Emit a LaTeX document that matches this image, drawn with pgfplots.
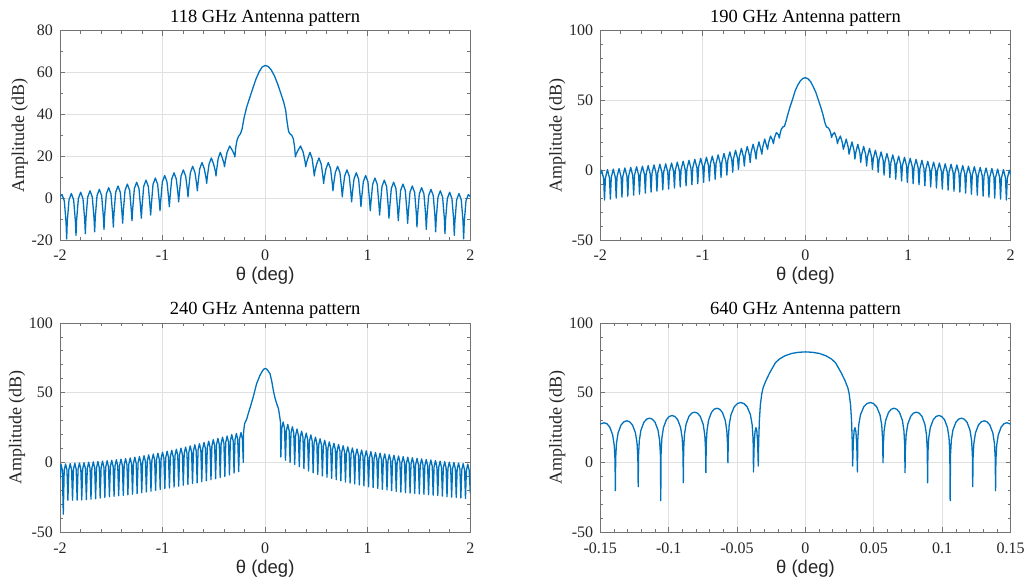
\documentclass[border=0pt]{standalone}
\usepackage{fontspec}
\setmainfont{Liberation Serif}
\newfontfamily\sansfont{Liberation Sans}
\usepackage{pgfplots}
\pgfplotsset{compat=1.18}
\definecolor{mblue}{RGB}{0,114,189}
\pgfplotsset{antenna/.style={
 scale only axis, width=205.15pt, height=104.65pt, anchor=south west,
 axis line style={black!55, line width=0.4pt},
 every tick/.style={black!55, line width=0.4pt},
 major tick length=2.5pt, minor tick length=1.5pt, tick align=inside,
 xmajorgrids, ymajorgrids, grid style={black!12, line width=0.4pt},
 ticklabel style={font=\fontsize{8}{9}\selectfont, text=black!85},
 title style={font=\fontsize{9.25}{11}\selectfont, text=black, anchor=base, yshift=-2pt},
 xlabel style={font=\sansfont\fontsize{9.25}{11}\selectfont, text=black!85, at={(axis description cs:0.5,0)}, anchor=base, yshift=-20.5pt},
 ylabel style={font=\fontsize{9}{11}\selectfont, text=black!85},
 ylabel shift=-5pt,
 xlabel={θ (deg)}, ylabel={Amplitude (dB)},
 xmin=-2, xmax=2, xtick={-2,-1,0,1,2}, xticklabels={-2,-1,0,1,2}, minor x tick num=4,
 xticklabel style={anchor=base, yshift=-10.5pt},
 ymin=-50, ymax=100, ytick={-50,0,50,100}, yticklabels={-50,0,50,100}, minor y tick num=4,
}, ant/.style={mblue, mark=none, line width=0.65pt, line join=round}}
\begin{document}
\begin{tikzpicture}
\useasboundingbox (0,0) rectangle (513pt,290.5pt);
% ---------------- 118 GHz
\begin{axis}[antenna, at={(30pt,170.5pt)}, title={118 GHz Antenna pattern},
 ymin=-20, ymax=80, ytick={-20,0,20,40,60,80}, yticklabels={-20,0,20,40,60,80}, minor y tick num=1]
\addplot[ant] coordinates {
(-2.0,0.8) (-1.9805,1.7) (-1.958,-1.3) (-1.941,-11.5) (-1.935,-19.5)
(-1.929,-11.0) (-1.912,-0.8) (-1.8895,2.2) (-1.867,-0.8) (-1.850,-11.0) (-1.844,-17.8)
(-1.838,-10.4) (-1.821,-0.2) (-1.7985,2.8) (-1.776,-0.2) (-1.759,-10.4) (-1.753,-17)
(-1.747,-9.7) (-1.730,0.5) (-1.7075,3.5) (-1.685,0.5) (-1.668,-9.7) (-1.662,-16.1)
(-1.656,-9.0) (-1.639,1.2) (-1.6165,4.2) (-1.594,1.2) (-1.577,-9.0) (-1.571,-15)
(-1.565,-8.2) (-1.548,2.0) (-1.5255,5.0) (-1.503,2.0) (-1.486,-8.2) (-1.480,-13.8)
(-1.474,-7.4) (-1.457,2.8) (-1.4345,5.8) (-1.412,2.8) (-1.395,-7.4) (-1.389,-12)
(-1.383,-6.5) (-1.366,3.7) (-1.3435,6.7) (-1.321,3.7) (-1.304,-6.4) (-1.298,-10.8)
(-1.292,-5.6) (-1.275,4.6) (-1.2525,7.6) (-1.230,4.6) (-1.213,-5.3) (-1.207,-9.6)
(-1.201,-4.6) (-1.184,5.6) (-1.1615,8.6) (-1.139,5.6) (-1.122,-3.9) (-1.116,-8.1)
(-1.110,-3.6) (-1.093,6.6) (-1.0705,9.6) (-1.048,6.6) (-1.031,-2.1) (-1.025,-6.0)
(-1.019,-1.8) (-1.002,7.8) (-0.9795,10.8) (-0.957,7.8) (-0.940,-0.4) (-0.934,-4.1)
(-0.928,0) (-0.911,9.1) (-0.8885,12.1) (-0.866,9.1) (-0.849,1.7) (-0.843,-1.8)
(-0.837,2.0) (-0.820,10.5) (-0.7975,13.5) (-0.775,10.5) (-0.758,3.8) (-0.752,0.6)
(-0.746,4.3) (-0.729,12.2) (-0.7065,15.2) (-0.684,12.2) (-0.667,6.4) (-0.661,3.5)
(-0.655,6.9) (-0.638,14) (-0.6155,17) (-0.593,14) (-0.576,9.5) (-0.570,7)
(-0.564,10.1) (-0.547,16.2) (-0.5245,19.2) (-0.502,16.2) (-0.485,12.8) (-0.479,10.6)
(-0.473,13.4) (-0.458,18.9) (-0.4375,21.9) (-0.417,19.1) (-0.402,16.7) (-0.396,15)
(-0.389,17.5) (-0.371,21.9) (-0.3455,24.9) (-0.320,22.8) (-0.302,21.0) (-0.295,19.7)
(-0.287,24) (-0.275,27.5) (-0.26,29.5) (-0.24,30.8) (-0.225,33) (-0.205,38.5) (-0.18,43.5)
(-0.15,48) (-0.12,52.5) (-0.09,56.8) (-0.06,60.2) (-0.03,62.6) (0,63.4)
(0.03,62.9) (0.06,61.2) (0.09,58.5) (0.12,54.8) (0.15,50.5) (0.18,46) (0.2,42) (0.215,36)
(0.228,32) (0.24,30.8) (0.26,30) (0.275,28.3) (0.287,24.5) (0.295,19.7)
(0.302,21.0) (0.320,22.8) (0.3455,24.9) (0.371,21.9) (0.389,17.5) (0.396,15)
(0.402,16.7) (0.417,19.1) (0.4375,21.9) (0.458,18.9) (0.473,13.4) (0.479,10.6)
(0.485,12.8) (0.502,16.2) (0.5245,19.2) (0.547,16.2) (0.564,10.1) (0.570,7)
(0.576,9.5) (0.593,14) (0.6155,17) (0.638,14) (0.655,6.9) (0.661,3.5)
(0.667,6.4) (0.684,12.2) (0.7065,15.2) (0.729,12.2) (0.746,4.3) (0.752,0.6)
(0.758,3.8) (0.775,10.5) (0.7975,13.5) (0.820,10.5) (0.837,2.0) (0.843,-1.8)
(0.849,1.7) (0.866,9.1) (0.8885,12.1) (0.911,9.1) (0.928,0) (0.934,-4.1)
(0.940,-0.4) (0.957,7.8) (0.9795,10.8) (1.002,7.8) (1.019,-1.8) (1.025,-6.0)
(1.031,-2.1) (1.048,6.6) (1.0705,9.6) (1.093,6.6) (1.110,-3.6) (1.116,-8.1)
(1.122,-3.9) (1.139,5.6) (1.1615,8.6) (1.184,5.6) (1.201,-4.6) (1.207,-9.6)
(1.213,-5.3) (1.230,4.6) (1.2525,7.6) (1.275,4.6) (1.292,-5.6) (1.298,-10.8)
(1.304,-6.4) (1.321,3.7) (1.3435,6.7) (1.366,3.7) (1.383,-6.5) (1.389,-12)
(1.395,-7.4) (1.412,2.8) (1.4345,5.8) (1.457,2.8) (1.474,-7.4) (1.480,-13.8)
(1.486,-8.2) (1.503,2.0) (1.5255,5.0) (1.548,2.0) (1.565,-8.2) (1.571,-15)
(1.577,-9.0) (1.594,1.2) (1.6165,4.2) (1.639,1.2) (1.656,-9.0) (1.662,-16.1)
(1.668,-9.7) (1.685,0.5) (1.7075,3.5) (1.730,0.5) (1.747,-9.7) (1.753,-17)
(1.759,-10.4) (1.776,-0.2) (1.7985,2.8) (1.821,-0.2) (1.838,-10.4) (1.844,-17.8)
(1.850,-11.0) (1.867,-0.8) (1.8895,2.2) (1.912,-0.8) (1.929,-11.0) (1.935,-19.5)
(1.941,-11.5) (1.958,-1.3) (1.9805,1.7) (2.0,0.8)
};
\end{axis}
% ---------------- 190 GHz
\begin{axis}[antenna, at={(300.15pt,170.5pt)}, title={190 GHz Antenna pattern}]
\addplot[ant] coordinates {
(-2.0,-3) (-1.9874,0) (-1.9675,-6) (-1.959,-21.4)
(-1.9503,-5.6) (-1.9304,0.4) (-1.9105,-5.6) (-1.902,-20.7)
(-1.8933,-5.2) (-1.8734,0.8) (-1.8535,-5.2) (-1.845,-20)
(-1.8373,-4.8) (-1.8174,1.2) (-1.7975,-4.8) (-1.789,-19.3)
(-1.7803,-4.4) (-1.7604,1.6) (-1.7405,-4.4) (-1.732,-18.6)
(-1.7233,-4) (-1.7034,2) (-1.6835,-4) (-1.675,-17.9)
(-1.6663,-3.5) (-1.6464,2.5) (-1.6265,-3.5) (-1.618,-17.2)
(-1.6093,-3.1) (-1.5894,2.9) (-1.5695,-3.1) (-1.561,-16.4)
(-1.5533,-2.7) (-1.5334,3.3) (-1.5135,-2.7) (-1.505,-15.7)
(-1.4963,-2.2) (-1.4764,3.8) (-1.4565,-2.2) (-1.448,-15)
(-1.4393,-1.7) (-1.4194,4.3) (-1.3995,-1.7) (-1.391,-14.2)
(-1.3823,-1.4) (-1.3624,4.6) (-1.3425,-1.4) (-1.334,-13.5)
(-1.3253,-0.8) (-1.3054,5.2) (-1.2855,-0.8) (-1.277,-12.8)
(-1.2693,-0.2) (-1.2494,5.8) (-1.2295,-0.2) (-1.221,-12)
(-1.2123,0.4) (-1.1924,6.4) (-1.1725,0.4) (-1.164,-11.2)
(-1.1553,1.1) (-1.1354,7.1) (-1.1155,1.1) (-1.107,-10.4)
(-1.0983,1.8) (-1.0784,7.8) (-1.0585,1.8) (-1.050,-9.6)
(-1.0413,2.5) (-1.0214,8.5) (-1.0015,2.5) (-0.993,-8.7)
(-0.9853,3.3) (-0.9654,9.3) (-0.9455,3.3) (-0.937,-7.7)
(-0.9283,4.1) (-0.9084,10.1) (-0.8885,4.1) (-0.880,-6.5)
(-0.8713,5) (-0.8514,11) (-0.8315,5) (-0.823,-5.2)
(-0.8143,6) (-0.7944,12) (-0.7745,6) (-0.766,-3.5)
(-0.7573,7.1) (-0.7374,13.1) (-0.7175,7.1) (-0.709,-1.5)
(-0.7013,8.3) (-0.6814,14.3) (-0.6615,8.3) (-0.653,0.5)
(-0.6443,9.6) (-0.6244,15.6) (-0.6045,9.6) (-0.596,3)
(-0.5873,11) (-0.5674,17) (-0.5475,11) (-0.539,5.5)
(-0.5303,12.6) (-0.5104,18.6) (-0.4905,12.6) (-0.482,8)
(-0.4733,14.3) (-0.4534,20.3) (-0.4335,14.3) (-0.425,11.5)
(-0.4173,16.3) (-0.3974,22.3) (-0.3775,17) (-0.369,15)
(-0.3603,19.5) (-0.3404,24.5) (-0.3205,21.5) (-0.312,19)
(-0.3033,23) (-0.2834,27) (-0.2635,25.5) (-0.255,23)
(-0.245,27) (-0.235,29.5) (-0.22,31) (-0.205,31.5) (-0.19,35) (-0.17,40.5) (-0.15,45.5)
(-0.125,51) (-0.1,57) (-0.075,61) (-0.05,64) (-0.025,65.8) (0,66.3)
(0.025,65.5) (0.05,63.5) (0.075,60) (0.1,56) (0.125,50.5) (0.15,45) (0.17,40) (0.19,34)
(0.205,31) (0.22,30.5) (0.235,29) (0.245,27) (0.255,23.5)
(0.2635,25.5) (0.2834,27) (0.3033,23) (0.312,19)
(0.3205,21.5) (0.3404,24.5) (0.3603,19.5) (0.369,15)
(0.3775,17) (0.3974,22.3) (0.4173,16.3) (0.425,11.5)
(0.4335,14.3) (0.4534,20.3) (0.4733,14.3) (0.482,8)
(0.4905,12.6) (0.5104,18.6) (0.5303,12.6) (0.539,5.5)
(0.5475,11) (0.5674,17) (0.5873,11) (0.596,3)
(0.6045,9.6) (0.6244,15.6) (0.6443,9.6) (0.653,0.5)
(0.6615,8.3) (0.6814,14.3) (0.7013,8.3) (0.709,-1.5)
(0.7175,7.1) (0.7374,13.1) (0.7573,7.1) (0.766,-3.5)
(0.7745,6) (0.7944,12) (0.8143,6) (0.823,-5.2)
(0.8315,5) (0.8514,11) (0.8713,5) (0.880,-6.5)
(0.8885,4.1) (0.9084,10.1) (0.9283,4.1) (0.937,-7.7)
(0.9455,3.3) (0.9654,9.3) (0.9853,3.3) (0.993,-8.7)
(1.0015,2.5) (1.0214,8.5) (1.0413,2.5) (1.050,-9.6)
(1.0585,1.8) (1.0784,7.8) (1.0983,1.8) (1.107,-10.4)
(1.1155,1.1) (1.1354,7.1) (1.1553,1.1) (1.164,-11.2)
(1.1725,0.4) (1.1924,6.4) (1.2123,0.4) (1.221,-12)
(1.2295,-0.2) (1.2494,5.8) (1.2693,-0.2) (1.277,-12.8)
(1.2855,-0.8) (1.3054,5.2) (1.3253,-0.8) (1.334,-13.5)
(1.3425,-1.4) (1.3624,4.6) (1.3823,-1.4) (1.391,-14.2)
(1.3995,-1.7) (1.4194,4.3) (1.4393,-1.7) (1.448,-15)
(1.4565,-2.2) (1.4764,3.8) (1.4963,-2.2) (1.505,-15.7)
(1.5135,-2.7) (1.5334,3.3) (1.5533,-2.7) (1.561,-16.4)
(1.5695,-3.1) (1.5894,2.9) (1.6093,-3.1) (1.618,-17.2)
(1.6265,-3.5) (1.6464,2.5) (1.6663,-3.5) (1.675,-17.9)
(1.6835,-4) (1.7034,2) (1.7233,-4) (1.732,-18.6)
(1.7405,-4.4) (1.7604,1.6) (1.7803,-4.4) (1.789,-19.3)
(1.7975,-4.8) (1.8174,1.2) (1.8373,-4.8) (1.845,-20)
(1.8535,-5.2) (1.8734,0.8) (1.8933,-5.2) (1.902,-20.7)
(1.9105,-5.6) (1.9304,0.4) (1.9503,-5.6) (1.959,-21.4)
(1.9675,-6) (1.9874,0) (2.0,-3)
};
\end{axis}
% ---------------- 240 GHz
\begin{axis}[antenna, at={(30pt,24.35pt)}, title={240 GHz Antenna pattern}]
\addplot[ant] coordinates {
(-2.0,-12) (-1.9905,-1.1) (-1.977,-5.6) (-1.968,-37)
(-1.959,-5.5) (-1.9455,-1.0) (-1.932,-5.5) (-1.923,-27)
(-1.914,-5.3) (-1.9005,-0.8) (-1.887,-5.3) (-1.878,-27)
(-1.869,-5.0) (-1.8555,-0.5) (-1.842,-5.0) (-1.833,-27)
(-1.824,-4.8) (-1.8105,-0.3) (-1.797,-4.8) (-1.788,-26.8)
(-1.779,-4.6) (-1.7655,-0.1) (-1.752,-4.6) (-1.743,-26.6)
(-1.734,-4.3) (-1.7205,0.2) (-1.707,-4.3) (-1.698,-26.3)
(-1.689,-4.0) (-1.6755,0.5) (-1.662,-4.0) (-1.653,-26)
(-1.644,-3.8) (-1.6305,0.7) (-1.617,-3.8) (-1.608,-25.5)
(-1.599,-3.5) (-1.5855,1.0) (-1.572,-3.5) (-1.563,-25)
(-1.554,-3.2) (-1.5405,1.3) (-1.527,-3.2) (-1.518,-24.5)
(-1.509,-2.9) (-1.4955,1.6) (-1.482,-2.9) (-1.473,-24.2)
(-1.464,-2.5) (-1.4505,2.0) (-1.437,-2.5) (-1.428,-23.8)
(-1.419,-2.1) (-1.4055,2.4) (-1.392,-2.1) (-1.383,-23.5)
(-1.374,-1.7) (-1.3605,2.8) (-1.347,-1.7) (-1.338,-23.2)
(-1.329,-1.2) (-1.3155,3.3) (-1.302,-1.2) (-1.293,-22.7)
(-1.284,-0.7) (-1.2705,3.8) (-1.257,-0.7) (-1.248,-22.2)
(-1.239,-0.2) (-1.2255,4.3) (-1.212,-0.2) (-1.203,-21.6)
(-1.194,0.4) (-1.1805,4.9) (-1.167,0.4) (-1.158,-21.1)
(-1.149,1.0) (-1.1355,5.5) (-1.122,1.0) (-1.113,-20.5)
(-1.104,1.6) (-1.0905,6.1) (-1.077,1.6) (-1.068,-19.9)
(-1.059,2.2) (-1.0455,6.7) (-1.032,2.2) (-1.023,-19.3)
(-1.014,2.9) (-1.0005,7.4) (-0.987,2.9) (-0.978,-18.7)
(-0.969,3.6) (-0.9555,8.1) (-0.942,3.6) (-0.933,-18.2)
(-0.924,4.3) (-0.9105,8.8) (-0.897,4.3) (-0.888,-17.6)
(-0.879,5.0) (-0.8655,9.5) (-0.852,5.0) (-0.843,-17)
(-0.834,5.8) (-0.8205,10.3) (-0.807,5.8) (-0.798,-16.3)
(-0.789,6.6) (-0.7755,11.1) (-0.762,6.6) (-0.753,-15.7)
(-0.744,7.4) (-0.7305,11.9) (-0.717,7.4) (-0.708,-15.1)
(-0.699,8.2) (-0.6855,12.7) (-0.672,8.2) (-0.663,-14.5)
(-0.654,9.0) (-0.6405,13.5) (-0.627,9.0) (-0.618,-13.8)
(-0.609,9.9) (-0.5955,14.4) (-0.582,9.9) (-0.573,-13.1)
(-0.564,10.8) (-0.5505,15.3) (-0.537,10.8) (-0.528,-12.4)
(-0.519,11.9) (-0.5055,16.4) (-0.492,11.9) (-0.483,-11.6)
(-0.474,12.8) (-0.4605,17.3) (-0.447,12.8) (-0.438,-10.8)
(-0.429,13.7) (-0.4155,18.2) (-0.402,13.7) (-0.393,-10)
(-0.384,14.5) (-0.3705,19) (-0.357,14.5) (-0.348,-8.9)
(-0.339,15.5) (-0.3255,20) (-0.312,15.5) (-0.303,-7.6)
(-0.294,16.3) (-0.2805,20.8) (-0.267,16.3) (-0.258,-6.6)
(-0.249,17) (-0.2355,21.5) (-0.222,17) (-0.213,0)
(-0.21,22) (-0.2,28) (-0.18,31) (-0.165,35) (-0.148,39) (-0.116,47) (-0.083,56.6)
(-0.05,62.5) (-0.03,65.2) (-0.015,66.8) (0,67.4)
(0.015,67) (0.03,65.5) (0.047,63.8) (0.065,58) (0.079,52) (0.095,46.5) (0.112,42.3)
(0.13,38.5) (0.144,32) (0.149,29) (0.153,4)
(0.162,24.5) (0.1755,29) (0.189,24.5) (0.198,1.7)
(0.207,22.8) (0.2205,27.3) (0.234,22.8) (0.243,0)
(0.252,21.1) (0.2655,25.6) (0.279,21.1) (0.288,-1.4)
(0.297,19.5) (0.3105,24) (0.324,19.5) (0.333,-3)
(0.342,18) (0.3555,22.5) (0.369,18) (0.378,-4.4)
(0.387,16.6) (0.4005,21.1) (0.414,16.6) (0.423,-6)
(0.432,15.3) (0.4455,19.8) (0.459,15.3) (0.468,-7.3)
(0.477,13.7) (0.4905,18.2) (0.504,13.7) (0.513,-8.5)
(0.522,12.5) (0.5355,17) (0.549,12.5) (0.558,-9.6)
(0.567,11.4) (0.5805,15.9) (0.594,11.4) (0.603,-10.5)
(0.612,10.3) (0.6255,14.8) (0.639,10.3) (0.648,-11.4)
(0.657,9.3) (0.6705,13.8) (0.684,9.3) (0.693,-12.3)
(0.702,8.4) (0.7155,12.9) (0.729,8.4) (0.738,-13.1)
(0.747,7.5) (0.7605,12) (0.774,7.5) (0.783,-14)
(0.792,6.7) (0.8055,11.2) (0.819,6.7) (0.828,-14.7)
(0.837,5.9) (0.8505,10.4) (0.864,5.9) (0.873,-15.4)
(0.882,5.2) (0.8955,9.7) (0.909,5.2) (0.918,-16.1)
(0.927,4.5) (0.9405,9) (0.954,4.5) (0.963,-16.8)
(0.972,3.9) (0.9855,8.4) (0.999,3.9) (1.008,-17.4)
(1.017,3.3) (1.0305,7.8) (1.044,3.3) (1.053,-18)
(1.062,2.7) (1.0755,7.2) (1.089,2.7) (1.098,-18.6)
(1.107,2.2) (1.1205,6.7) (1.134,2.2) (1.143,-19.2)
(1.152,1.7) (1.1655,6.2) (1.179,1.7) (1.188,-19.7)
(1.197,1.2) (1.2105,5.7) (1.224,1.2) (1.233,-20.2)
(1.242,0.7) (1.2555,5.2) (1.269,0.7) (1.278,-20.8)
(1.287,0.2) (1.3005,4.7) (1.314,0.2) (1.323,-21.2)
(1.332,-0.3) (1.3455,4.2) (1.359,-0.3) (1.368,-21.6)
(1.377,-0.7) (1.3905,3.8) (1.404,-0.7) (1.413,-21.9)
(1.422,-1.1) (1.4355,3.4) (1.449,-1.1) (1.458,-22.2)
(1.467,-1.5) (1.4805,3.0) (1.494,-1.5) (1.503,-22.5)
(1.512,-1.9) (1.5255,2.6) (1.539,-1.9) (1.548,-22.8)
(1.557,-2.3) (1.5705,2.2) (1.584,-2.3) (1.593,-23.1)
(1.602,-2.7) (1.6155,1.8) (1.629,-2.7) (1.638,-23.4)
(1.647,-3.1) (1.6605,1.4) (1.674,-3.1) (1.683,-23.7)
(1.692,-3.5) (1.7055,1.0) (1.719,-3.5) (1.728,-24.1)
(1.737,-3.9) (1.7505,0.6) (1.764,-3.9) (1.773,-24.5)
(1.782,-4.2) (1.7955,0.3) (1.809,-4.2) (1.818,-24.8)
(1.827,-4.5) (1.8405,0) (1.854,-4.5) (1.863,-25.1)
(1.872,-4.9) (1.8855,-0.4) (1.899,-4.9) (1.908,-25.4)
(1.917,-5.3) (1.9305,-0.8) (1.944,-5.3) (1.953,-25.7)
(1.962,-5.6) (1.9755,-1.1) (1.989,-5.6) (2.0,-22)
};
\end{axis}
% ---------------- 640 GHz
\begin{axis}[antenna, at={(300.15pt,24.35pt)}, title={640 GHz Antenna pattern},
 xmin=-0.15, xmax=0.15, xtick={-0.15,-0.1,-0.05,0,0.05,0.1,0.15},
 xticklabels={-0.15,-0.1,-0.05,0,0.05,0.1,0.15}, minor x tick num=4]
\addplot[ant] coordinates {
(-0.15,27.6) (-0.14931,27.8) (-0.14725,28.5) (-0.14519,27.8) (-0.14313,25.5) (-0.14098,19.8) (-0.13983,12.4) (-0.13925,2) (-0.139,-20.2)
(-0.13875,3.4) (-0.13817,13.8) (-0.137,21.2) (-0.13483,26.9) (-0.13274,29.2) (-0.13065,29.9) (-0.12856,29.2) (-0.12648,26.9) (-0.1243,21.2) (-0.12314,13.8) (-0.12255,3.4) (-0.1223,-17.3)
(-0.12205,5.3) (-0.12148,15.7) (-0.12032,23.1) (-0.11818,28.8) (-0.11611,31.1) (-0.11405,31.8) (-0.11199,31.1) (-0.10993,28.8) (-0.10778,23.1) (-0.10663,15.7) (-0.10605,5.3) (-0.1058,-27.4)
(-0.10555,7.2) (-0.10498,17.6) (-0.10382,25) (-0.10168,30.7) (-0.09961,33) (-0.09755,33.7) (-0.09549,33) (-0.09343,30.7) (-0.09128,25) (-0.09013,17.6) (-0.08955,7.2) (-0.0893,-14.5)
(-0.08905,9.6) (-0.08848,20) (-0.08732,27.4) (-0.08518,33.1) (-0.08311,35.4) (-0.08105,36.1) (-0.07899,35.4) (-0.07693,33.1) (-0.07478,27.4) (-0.07363,20) (-0.07305,9.6) (-0.0728,-7.3)
(-0.07256,12.4) (-0.0720,22.8) (-0.07087,30.2) (-0.06878,35.9) (-0.06676,38.2) (-0.06475,38.9) (-0.06274,38.2) (-0.06073,35.9) (-0.05863,30.2) (-0.05751,22.8) (-0.05694,12.4) (-0.0567,-0.2)
(-0.05642,16.5) (-0.05577,26.9) (-0.05446,34.3) (-0.05203,40) (-0.04969,42.3) (-0.04735,43) (-0.04501,42.3) (-0.04268,40) (-0.04024,34.3) (-0.03894,26.9) (-0.03828,16.5) (-0.038,-6.8)
(-0.0375,13) (-0.0369,22) (-0.0362,25) (-0.0356,23) (-0.0350,15) (-0.0345,-2.5)
(-0.0342,15) (-0.0337,30) (-0.033,41) (-0.032,49) (-0.031,53.5) (-0.029,58.5) (-0.0263,64) (-0.022,71.5) (-0.019,74.2) (-0.015,76.5) (-0.01,78.2) (-0.005,79) (0,79.3)
(0.005,79) (0.01,78.2) (0.015,76.5) (0.019,74.2) (0.022,71.5) (0.0263,64) (0.029,58.5) (0.031,53.5) (0.032,49) (0.033,41) (0.0337,30) (0.0342,15) (0.0345,-2.5)
(0.0350,15) (0.0356,23) (0.0362,25) (0.0369,22) (0.0375,13) (0.038,-6.8)
(0.03828,16.5) (0.03894,26.9) (0.04024,34.3) (0.04268,40) (0.04501,42.3) (0.04735,43) (0.04969,42.3) (0.05203,40) (0.05446,34.3) (0.05577,26.9) (0.05642,16.5) (0.0567,-0.2)
(0.05694,12.4) (0.05751,22.8) (0.05863,30.2) (0.06073,35.9) (0.06274,38.2) (0.06475,38.9) (0.06676,38.2) (0.06878,35.9) (0.07087,30.2) (0.0720,22.8) (0.07256,12.4) (0.0728,-7.3)
(0.07305,9.6) (0.07363,20) (0.07478,27.4) (0.07693,33.1) (0.07899,35.4) (0.08105,36.1) (0.08311,35.4) (0.08518,33.1) (0.08732,27.4) (0.08848,20) (0.08905,9.6) (0.0893,-14.5)
(0.08955,7.2) (0.09013,17.6) (0.09128,25) (0.09343,30.7) (0.09549,33) (0.09755,33.7) (0.09961,33) (0.10168,30.7) (0.10382,25) (0.10498,17.6) (0.10555,7.2) (0.1058,-27.4)
(0.10605,5.3) (0.10663,15.7) (0.10778,23.1) (0.10993,28.8) (0.11199,31.1) (0.11405,31.8) (0.11611,31.1) (0.11818,28.8) (0.12032,23.1) (0.12148,15.7) (0.12205,5.3) (0.1223,-17.3)
(0.12255,3.4) (0.12314,13.8) (0.1243,21.2) (0.12648,26.9) (0.12856,29.2) (0.13065,29.9) (0.13274,29.2) (0.13483,26.9) (0.137,21.2) (0.13817,13.8) (0.13875,3.4) (0.139,-20.2)
(0.13925,2) (0.13983,12.4) (0.14098,19.8) (0.14313,25.5) (0.14519,27.8) (0.14725,28.5) (0.14931,27.8) (0.15,27.6)
};
\end{axis}
\end{tikzpicture}
\end{document}
